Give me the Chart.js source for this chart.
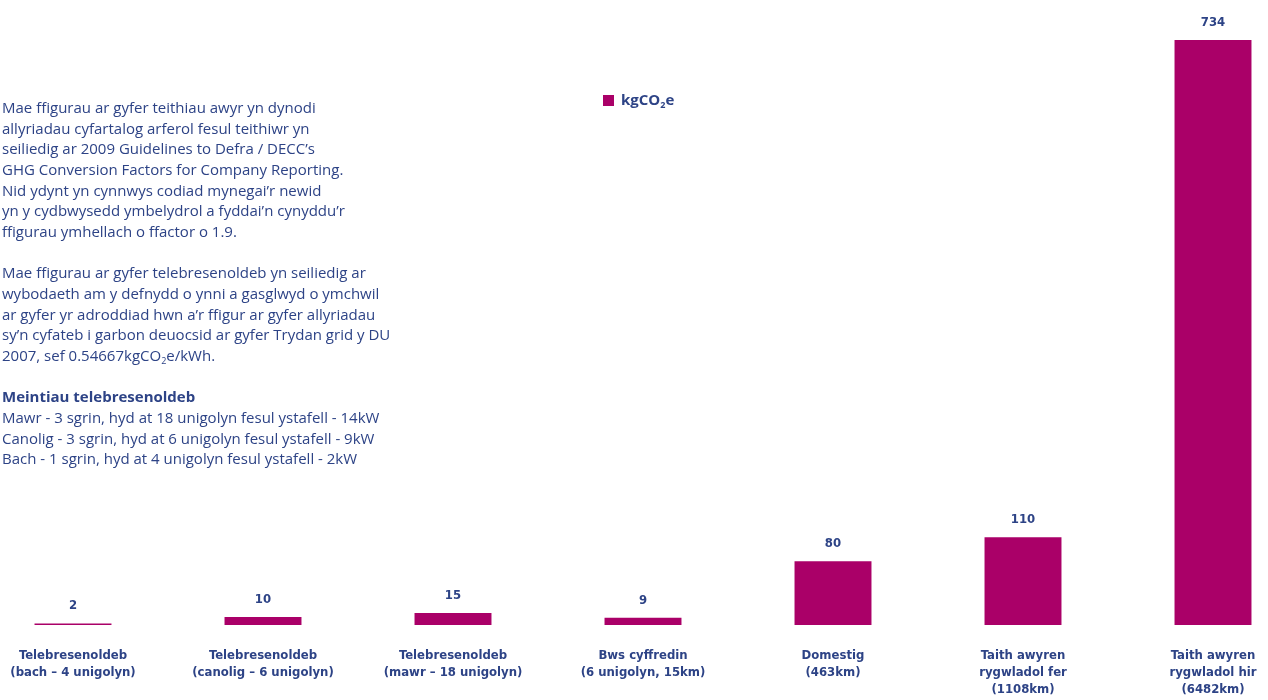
<!DOCTYPE html>
<html>
<head>
<meta charset="utf-8">
<script src="https://cdn.jsdelivr.net/npm/chart.js@4"></script>
<style>
  html, body { margin: 0; padding: 0; background: #fff; }
  #wrap { position: relative; width: 1268px; height: 700px; overflow: hidden; }
  #chart { position: absolute; left: 0; top: 0; }
  #notes {
    position: absolute; left: 2px; top: 97px; width: 420px;
    font-family: "Open Sans", sans-serif; font-size: 15px; line-height: 20.67px;
    color: #2d4386;
  }
  #notes p { margin: 0 0 20.67px 0; }
  #notes b { font-weight: 700; font-size: 15px; }
  sub { font-size: 9px; vertical-align: -3px; line-height: 0; }
  #legend {
    position: absolute; left: 603px; top: 89px;
    font-family: "Open Sans", sans-serif; font-weight: 700; font-size: 15px; color: #2d4386;
    line-height: 20px;
  }
  #legend .box { display: inline-block; width: 11px; height: 11px; background: #aa0068; margin-right: 7px; vertical-align: -1px; }
</style>
</head>
<body>
<div id="wrap">
  <canvas id="chart" width="1268" height="700"></canvas>
  <div id="notes">
    <p>Mae ffigurau ar gyfer teithiau awyr yn dynodi<br>
    allyriadau cyfartalog arferol fesul teithiwr yn<br>
    seiliedig ar 2009 Guidelines to Defra / DECC’s<br>
    GHG Conversion Factors for Company Reporting.<br>
    Nid ydynt yn cynnwys codiad mynegai’r newid<br>
    yn y cydbwysedd ymbelydrol a fyddai’n cynyddu’r<br>
    ffigurau ymhellach o ffactor o 1.9.</p>
    <p>Mae ffigurau ar gyfer telebresenoldeb yn seiliedig ar<br>
    wybodaeth am y defnydd o ynni a gasglwyd o ymchwil<br>
    ar gyfer yr adroddiad hwn a’r ffigur ar gyfer allyriadau<br>
    sy’n cyfateb i garbon deuocsid ar gyfer Trydan grid y DU<br>
    2007, sef 0.54667kgCO<sub>2</sub>e/kWh.</p>
    <div><b>Meintiau telebresenoldeb</b><br>
    Mawr - 3 sgrin, hyd at 18 unigolyn fesul ystafell - 14kW<br>
    Canolig - 3 sgrin, hyd at 6 unigolyn fesul ystafell - 9kW<br>
    Bach - 1 sgrin, hyd at 4 unigolyn fesul ystafell - 2kW</div>
  </div>
  <div id="legend"><span class="box"></span><span>kgCO<sub>2</sub>e</span></div>
</div>
<script>
const categories = [
  ["Telebresenoldeb", "(bach – 4 unigolyn)"],
  ["Telebresenoldeb", "(canolig – 6 unigolyn)"],
  ["Telebresenoldeb", "(mawr – 18 unigolyn)"],
  ["Bws cyffredin", "(6 unigolyn, 15km)"],
  ["Domestig", "(463km)"],
  ["Taith awyren", "rygwladol fer", "(1108km)"],
  ["Taith awyren", "rygwladol hir", "(6482km)"]
];
const kgCO2e = [2, 10, 15, 9, 80, 110, 734];

const navy = "#2d4386";
const magenta = "#aa0068";
const labelFont = "'Liberation Sans Narrow', 'DejaVu Sans Condensed', sans-serif";

// values above the bars
const valueLabels = {
  id: "valueLabels",
  afterDatasetsDraw(chart) {
    const ctx = chart.ctx;
    const meta = chart.getDatasetMeta(0);
    ctx.save();
    ctx.font = "bold 13px " + labelFont;
    ctx.fillStyle = navy;
    ctx.textAlign = "center";
    ctx.textBaseline = "alphabetic";
    meta.data.forEach((bar, i) => {
      ctx.fillText(String(kgCO2e[i]), bar.x, bar.y - 14);
    });
    ctx.restore();
  }
};

const ctx = document.getElementById("chart").getContext("2d");
new Chart(ctx, {
  type: "bar",
  data: {
    labels: categories,
    datasets: [{
      label: "kgCO2e",
      data: kgCO2e,
      backgroundColor: magenta,
      borderWidth: 0,
      barPercentage: 0.9,
      categoryPercentage: 0.45,
      clip: false
    }]
  },
  options: {
    responsive: false,
    animation: false,
    layout: { padding: { left: 73, right: 55, top: 40, bottom: 0 } },
    plugins: {
      legend: { display: false },
      tooltip: { enabled: false }
    },
    scales: {
      x: {
        offset: false,
        grid: { display: false, drawTicks: false },
        border: { display: false },
        ticks: {
          color: navy,
          font: { family: labelFont, size: 13, weight: "bold", lineHeight: 1.3 },
          padding: 22,
          maxRotation: 0,
          autoSkip: false
        },
        afterFit: (s) => { s.height = 75; s.paddingLeft = 0; s.paddingRight = 0; }
      },
      y: {
        display: false,
        min: 0,
        max: 734
      }
    }
  },
  plugins: [valueLabels]
});
</script>
</body>
</html>
